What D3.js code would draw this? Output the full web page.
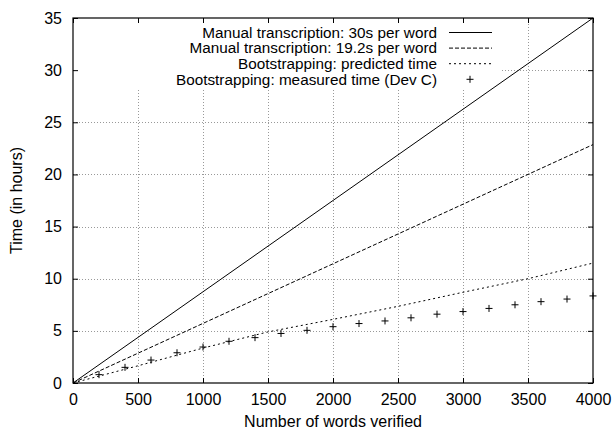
<!DOCTYPE html>
<html>
<head>
<meta charset="utf-8">
<script src="https://cdn.jsdelivr.net/npm/d3@7/dist/d3.min.js"></script>
<style>
  body { margin: 0; background: #fff; }
  text { font-family: "Liberation Sans", Arial, sans-serif; fill: #000; }
</style>
</head>
<body>
<svg id="chart" width="615" height="432"></svg>
<script>
// values (x = words verified, y = hours)
const manual30 = [[0, 0], [4000, 35]];
const manual19 = [[0, 0], [4000, 22.86]];
const predicted = [[0, 0], [500, 1.65], [1000, 3.35], [1500, 4.9], [2000, 6.1],
                   [2500, 7.35], [3000, 8.7], [3500, 10.0], [4000, 11.5]];
const measuredX = [200, 400, 600, 800, 1000, 1200, 1400, 1600, 1800, 2000,
                   2200, 2400, 2600, 2800, 3000, 3200, 3400, 3600, 3800, 4000];
const measuredY = [0.8, 1.5, 2.2, 2.9, 3.45, 4.0, 4.35, 4.75, 5.05, 5.4,
                   5.7, 5.95, 6.25, 6.6, 6.85, 7.15, 7.5, 7.8, 8.05, 8.35];
const xTicks = [0, 500, 1000, 1500, 2000, 2500, 3000, 3500, 4000];
const yTicks = [0, 5, 10, 15, 20, 25, 30, 35];
const legendLabels = [
  "Manual transcription: 30s per word",
  "Manual transcription: 19.2s per word",
  "Bootstrapping: predicted time",
  "Bootstrapping: measured time (Dev C)"
];

const svg = d3.select('#chart');
const pL = 73, pR = 593, pT = 18, pB = 383;
const fs = 16;

const x = d3.scaleLinear().domain([0, 4000]).range([pL, pR]);
const y = d3.scaleLinear().domain([0, 35]).range([pB, pT]);

// grid
const grid = svg.append('g').attr('stroke', '#999').attr('stroke-width', 1)
  .attr('stroke-dasharray', '1,2').attr('shape-rendering', 'crispEdges');
grid.selectAll('.gx').data(xTicks.slice(1, -1)).enter().append('line')
  .attr('x1', d => Math.round(x(d)) + 0.5).attr('x2', d => Math.round(x(d)) + 0.5)
  .attr('y1', pT).attr('y2', pB);
grid.selectAll('.gy').data(yTicks.slice(1, -1)).enter().append('line')
  .attr('y1', d => Math.round(y(d)) + 0.5).attr('y2', d => Math.round(y(d)) + 0.5)
  .attr('x1', pL).attr('x2', pR);

// key box hides the grid behind it
svg.append('rect').attr('x', pL + 1).attr('y', pT + 1)
  .attr('width', 428).attr('height', 70).attr('fill', '#fff');

// axes with inward ticks, mirrored
const tickLen = 5;
svg.append('g').attr('transform', `translate(0,${pB})`)
  .call(d3.axisBottom(x).tickValues(xTicks).tickSize(-tickLen).tickPadding(11).tickFormat(d3.format('d')));
svg.append('g').attr('transform', `translate(0,${pT})`)
  .call(d3.axisTop(x).tickValues(xTicks).tickSize(-tickLen).tickFormat(''));
svg.append('g').attr('transform', `translate(${pL},0)`)
  .call(d3.axisLeft(y).tickValues(yTicks).tickSize(-tickLen).tickPadding(11));
svg.append('g').attr('transform', `translate(${pR},0)`)
  .call(d3.axisRight(y).tickValues(yTicks).tickSize(-tickLen).tickFormat(''));
svg.selectAll('.domain').remove();
svg.selectAll('.tick line').attr('stroke', '#000');
svg.selectAll('.tick text').attr('font-size', fs).attr('font-family', '"Liberation Sans", Arial, sans-serif');

svg.append('rect').attr('x', pL).attr('y', pT)
  .attr('width', pR - pL).attr('height', pB - pT)
  .attr('fill', 'none').attr('stroke', '#000').attr('stroke-width', 1.2);

// series
const line = d3.line().x(d => x(d[0])).y(d => y(d[1]));
const styles = [null, '4,2', '2,3'];
[manual30, manual19, predicted].forEach((s, i) => {
  svg.append('path').datum(s).attr('d', line).attr('fill', 'none')
    .attr('stroke', '#000').attr('stroke-width', 1)
    .attr('stroke-dasharray', styles[i]);
});

const plus = (g, cx, cy) => {
  g.append('path').attr('d', `M${cx - 3.5},${cy}H${cx + 3.5}M${cx},${cy - 3.5}V${cy + 3.5}`)
    .attr('stroke', '#000').attr('stroke-width', 1);
};
measuredX.forEach((w, i) => plus(svg, x(w), y(measuredY[i])));

// key
const key = svg.append('g');
legendLabels.forEach((t, i) => {
  const ly = 32.5 + i * 15.6;
  key.append('text').attr('x', 437).attr('y', ly).attr('dy', '0.35em')
    .attr('text-anchor', 'end').attr('font-size', 15.3).text(t);
  if (i < 3) {
    key.append('line').attr('x1', 449).attr('x2', 492).attr('y1', ly).attr('y2', ly)
      .attr('stroke', '#000').attr('stroke-width', 1).attr('stroke-dasharray', styles[i]);
  } else {
    plus(key, 470, ly);
  }
});

// axis titles
svg.append('text').attr('x', (pL + pR) / 2).attr('y', 427)
  .attr('text-anchor', 'middle').attr('font-size', fs).text('Number of words verified');
svg.append('text').attr('transform', `translate(22,${(pT + pB) / 2}) rotate(-90)`)
  .attr('text-anchor', 'middle').attr('font-size', fs).text('Time (in hours)');
</script>
</body>
</html>
